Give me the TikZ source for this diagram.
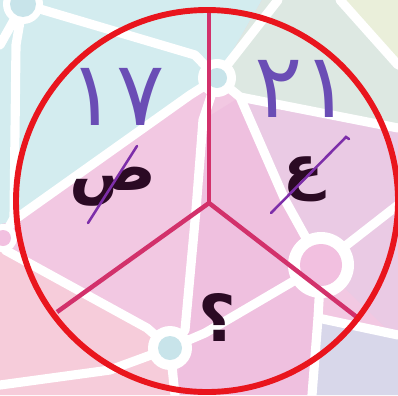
\documentclass[tikz,border=0pt]{standalone}
\usepackage{fontspec}
\usetikzlibrary{positioning}
\TeXXeTstate=1
\newfontfamily\arabicfont[Script=Arabic]{DejaVu Sans}
\definecolor{bgcyan}{HTML}{D3ECEF}
\definecolor{bgpink}{HTML}{F2C8E2}
\definecolor{bgmid}{HTML}{EFC0DF}
\definecolor{bggreen}{HTML}{DDE8E2}
\definecolor{bgyellow}{HTML}{EAEFDA}
\definecolor{bglilac}{HTML}{EACAE4}
\definecolor{bgblue}{HTML}{D8D7EA}
\definecolor{bgrose}{HTML}{F6CCDA}
\definecolor{dotcyan}{HTML}{C8E4EA}
\definecolor{dotpink}{HTML}{F2C0E0}
\definecolor{rimred}{HTML}{E9151D}
\definecolor{spokecol}{HTML}{D2316B}
\definecolor{inkcol}{HTML}{2B0A24}
\definecolor{pencol}{HTML}{6A4DB5}
\definecolor{strikecol}{HTML}{7D2EA9}
\tikzset{
    net/.style={
        draw=white,
        line width=6.5pt,
        line join=round,
        line cap=round
    },
    hub/.style={
        circle,
        fill=white,
        inner sep=0pt
    }
}

\begin{document}
\begin{tikzpicture}[
    x=0.025cm, y=-0.025cm,
    rim/.style={draw=rimred, line width=4.2pt},
    spoke/.style={draw=spokecol, line width=3.2pt},
    letter/.style={text=inkcol, font=\arabicfont\bfseries\fontsize{46}{50}\selectfont, inner sep=0pt, text height=0.5em, text depth=0.2em},
    digits/.style={text=pencol, font=\arabicfont\fontsize{64}{68}\selectfont, inner sep=0pt, text height=0.73em, text depth=0pt},
    strikeline/.style={draw=strikecol, line width=1.8pt, line cap=round}
]
    \useasboundingbox (0,0) rectangle (398,395);

    % Background patches
    \begin{scope}
    \clip (0,0) rectangle (398,395);
    \fill[bgpink] (0,0) rectangle (398,395);
    \fill[bgcyan] (0,0) -- (262,0) -- (217,78) -- (190,95) -- (15,222) -- (0,224) -- cycle;
    \fill[bggreen] (262,0) -- (398,0) -- (398,128) -- (240,97) -- (217,78) -- cycle;
    \fill[bgyellow] (340,0) -- (398,0) -- (398,65) -- cycle;
    \fill[bglilac] (240,97) -- (398,128) -- (398,340) -- (321,265) -- (285,200) -- cycle;
    \fill[bgmid] (203,120) -- (240,97) -- (285,200) -- (321,265) -- (318,318) -- (312,395) -- (175,395) -- (185,330) -- (196,210) -- cycle;
    \fill[bgblue] (318,318) -- (398,335) -- (398,395) -- (312,395) -- cycle;
    \fill[bgrose] (5,250) -- (147,328) -- (170,348) -- (175,395) -- (0,395) -- (0,250) -- cycle;

    % Hubs
    \node[hub, minimum size=1cm] (n1) at (23,4) {};
    \node[hub, minimum size=0.95cm] (n2) at (217,78) {};
    \node[hub, minimum size=1.65cm] (n3) at (321,265) {};
    \node[hub, minimum size=1.1cm] (n4) at (170,348) {};
    \node[hub, minimum size=0.7cm] (n5) at (3,238) {};

    % Links
    \draw[net] (n1.center) -- (195,55) -- (n2.center);
    \draw[net] (n1.center) -- (0,45);
    \draw[net] (n1.center) -- (16,45) -- (14,218) -- (n5.center);
    \draw[net] (14,220) -- (190,95) -- (n2.center);
    \draw[net] (n5.center) -- (5,250) -- (147,328) -- (n4.center);
    \draw[net] (n2.center) -- (203,120) -- (196,210) -- (185,330) -- (n4.center);
    \draw[net] (n2.center) -- (278,0);
    \draw[net] (n2.center) -- (240,97) -- (285,200) -- (n3.center);
    \draw[net] (240,97) -- (398,128);
    \draw[net] (340,0) -- (398,65);
    \draw[net] (n3.center) -- (398,205);
    \draw[net] (n3.center) -- (318,318) -- (398,335);
    \draw[net] (318,318) -- (312,395);
    \draw[net] (n4.center) -- (205,333) -- (n3.center);
    \draw[net] (n4.center) -- (110,370) -- (0,385);
    \draw[net] (n4.center) -- (175,395);

    % Hub dots
    \fill[dotcyan] (n1) circle[radius=13];
    \fill[dotcyan] (n2) circle[radius=10];
    \fill[dotpink] (n3) circle[radius=21];
    \fill[dotcyan] (n4) circle[radius=12];
    \fill[dotpink] (n5) circle[radius=8];
    \end{scope}

    % Circle and spokes
    \coordinate (o) at (207,201);
    \coordinate (c) at (209,203);
    \coordinate (top) at (209,10);
    \coordinate (left) at (57,312);
    \coordinate (right) at (358,318);
    \draw[spoke] (c) -- (top);
    \draw[spoke] (c) -- (left);
    \draw[spoke] (c) -- (right);
    \draw[rim] (o) circle[radius=191];

    % Letters
    \node[letter] (sad) at (113,188) {\beginR ص\endR};
    \node[letter, font=\arabicfont\bfseries\fontsize{42}{46}\selectfont] (ain) at (304,185) {\beginR ع\endR};
    \node[letter, font=\arabicfont\bfseries\fontsize{46}{50}\selectfont, text height=0.73em, text depth=0pt] (quest) at (217,336) {\beginR ؟\endR};

    % Numbers
    \node[digits] (seventeen) at (117,120) {١٧};
    \node[digits] (twentyone) at (303,112) {٢١};

    % Strikes
    \draw[strikeline] (88,223) -- (137,146);
    \draw[strikeline] (271,213) -- (346,137) -- (349,139);
\end{tikzpicture}
\end{document}
